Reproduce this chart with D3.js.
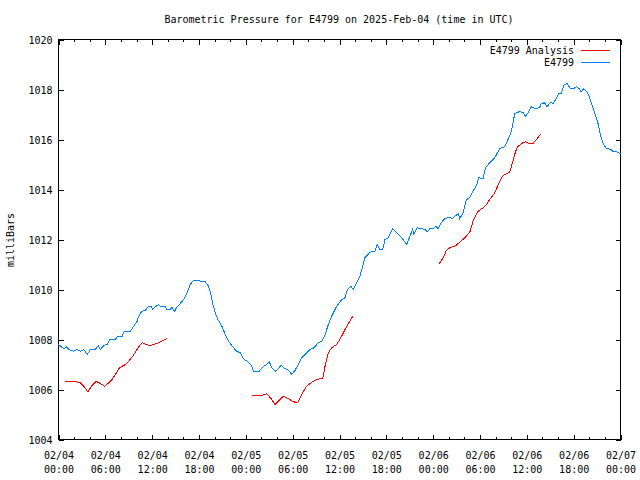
<!DOCTYPE html>
<html>
<head>
<meta charset="utf-8">
<script src="https://cdn.jsdelivr.net/npm/d3@7"></script>
<style>
  html, body { margin: 0; padding: 0; background: #fff; }
  svg { display: block; }
  text { font-family: "DejaVu Sans Mono", "Liberation Mono", monospace; font-size: 10px; fill: #000; }
</style>
</head>
<body>
<svg id="chart" width="640" height="480"></svg>
<script>
// ---- data (hours since 2025-02-04 00:00 UTC, pressure in mb) ----
const blueHours = [0,0.68,1.02,1.32,1.96,2.39,2.81,3.24,3.67,4.09,4.73,5.08,5.37,5.79,6.23,6.56,7.29,7.58,8.15,8.44,9.21,9.63,10.07,10.27,10.62,11.13,11.47,11.89,12.06,12.41,12.83,13.05,13.68,13.9,14.32,14.54,14.84,15.18,15.6,16.03,16.46,16.88,17.3,17.94,18.38,18.8,19.22,19.44,19.73,20.08,20.42,20.94,21.36,21.78,22.42,22.85,23.28,23.7,24.34,24.77,24.98,25.71,26.26,26.69,26.99,27.41,27.75,28.17,28.52,29.03,29.45,29.89,30.31,30.73,31.17,31.59,32.23,32.74,33.29,33.73,34.15,34.57,35.0,35.64,36.28,36.71,37.0,37.43,37.77,38.2,38.62,38.97,39.26,39.9,40.54,40.84,41.18,41.53,41.82,42.24,42.81,43.32,43.96,44.6,45.02,45.37,45.53,45.95,46.94,47.23,47.58,48.0,48.34,48.64,49.07,49.49,50.04,50.48,50.77,51.2,51.41,51.84,52.27,52.69,53.11,53.55,53.84,54.39,54.7,55.25,55.89,56.53,57.17,57.59,58.02,58.45,59.0,59.51,59.82,60.15,60.58,61.13,61.64,61.86,62.28,62.58,63.01,63.35,63.69,64.11,64.42,64.75,65.14,65.57,65.99,66.34,66.67,66.98,67.27,67.69,67.95,68.26,68.68,69.1,69.41,69.74,70.17,70.81,71.02,71.53,72.0];
const bluePressure = [1007.80,1007.63,1007.71,1007.60,1007.53,1007.60,1007.53,1007.60,1007.40,1007.60,1007.60,1007.76,1007.60,1007.76,1007.80,1008.00,1008.00,1008.13,1008.13,1008.33,1008.33,1008.53,1008.73,1008.93,1009.11,1009.17,1009.31,1009.31,1009.20,1009.31,1009.40,1009.33,1009.31,1009.20,1009.20,1009.29,1009.11,1009.31,1009.44,1009.60,1009.87,1010.20,1010.37,1010.37,1010.31,1010.31,1010.13,1009.93,1009.47,1009.07,1008.80,1008.53,1008.20,1007.93,1007.67,1007.53,1007.47,1007.23,1007.09,1006.93,1006.73,1006.73,1006.93,1007.00,1007.11,1006.83,1006.73,1006.83,1006.97,1006.83,1006.77,1006.60,1006.77,1007.00,1007.27,1007.40,1007.60,1007.67,1007.87,1007.93,1008.20,1008.60,1008.93,1009.33,1009.60,1009.67,1010.00,1010.13,1010.00,1010.27,1010.53,1010.93,1011.27,1011.49,1011.53,1011.80,1011.60,1011.60,1012.00,1012.07,1012.43,1012.27,1012.07,1011.80,1012.13,1012.40,1012.20,1012.47,1012.40,1012.31,1012.43,1012.43,1012.53,1012.43,1012.69,1012.83,1012.89,1012.83,1012.93,1013.03,1012.83,1013.07,1013.60,1013.67,1013.93,1014.16,1014.47,1014.43,1014.87,1015.07,1015.27,1015.64,1015.71,1016.00,1016.33,1017.03,1017.11,1017.09,1016.93,1017.07,1017.31,1017.23,1017.29,1017.44,1017.47,1017.31,1017.49,1017.43,1017.60,1017.84,1017.84,1018.17,1018.24,1018.04,1018.04,1018.11,1018.04,1017.91,1018.03,1017.91,1017.76,1017.47,1017.07,1016.67,1016.20,1015.87,1015.64,1015.60,1015.53,1015.51,1015.42];

// Analysis series; null marks a gap between segments
const redHours = [0.81,2.17,2.81,3.24,3.75,4.22,4.82,5.37,5.92,6.43,6.87,7.29,7.8,8.57,8.99,9.5,10.07,10.49,10.78,11.22,11.77,12.19,12.62,13.05,13.47,13.9,
  null,
  24.85,26.05,26.69,27.24,27.75,28.3,28.81,29.45,30.09,30.66,31.17,31.72,32.45,33.09,33.85,34.15,34.57,35.0,35.64,36.28,36.71,37.22,37.77,
  null,
  48.77,49.28,49.71,50.13,50.77,51.41,52.05,52.69,53.11,53.75,54.39,54.83,55.25,55.89,56.44,56.87,57.39,57.81,58.15,58.57,58.87,59.51,59.85,60.28,60.79,61.22,61.86];
const redPressure = [1006.31,1006.31,1006.27,1006.13,1005.91,1006.13,1006.33,1006.24,1006.13,1006.27,1006.40,1006.60,1006.87,1007.00,1007.13,1007.33,1007.60,1007.80,1007.87,1007.80,1007.76,1007.80,1007.84,1007.91,1007.97,1008.04,
  null,
  1005.76,1005.76,1005.83,1005.63,1005.40,1005.57,1005.73,1005.63,1005.51,1005.47,1005.80,1006.11,1006.29,1006.40,1006.45,1006.93,1007.47,1007.67,1007.80,1008.13,1008.40,1008.68,1008.96,
  null,
  1011.03,1011.27,1011.57,1011.67,1011.73,1011.89,1012.07,1012.29,1012.73,1013.13,1013.27,1013.40,1013.60,1013.87,1014.27,1014.53,1014.64,1014.69,1015.07,1015.53,1015.73,1015.87,1015.91,1015.84,1015.84,1016.00,1016.24];

const yTicks = [1004,1006,1008,1010,1012,1014,1016,1018,1020];
const seriesNames = ["E4799 Analysis", "E4799"];
const titleText = "Barometric Pressure for E4799 on 2025-Feb-04 (time in UTC)";
const yLabel = "milliBars";

// ---- layout ----
const W = 640, H = 480;
const m = {left: 58.5, right: 620.5, top: 39.5, bottom: 439.5};
const colors = {red: "#ff0000", blue: "#0080ff"};

const t0 = Date.UTC(2025, 1, 4, 0, 0);
const toDate = h => new Date(t0 + h * 3600e3);

const svg = d3.select("#chart");

const x = d3.scaleUtc().domain([toDate(0), toDate(72)]).range([m.left, m.right]);
const y = d3.scaleLinear().domain([1004, 1020]).range([m.bottom, m.top]);

const majorTicks = d3.utcHour.every(6).range(toDate(0), toDate(72.01));
const minorTicks = d3.utcHour.every(2).range(toDate(0), toDate(72.01));

const fmtDate = d3.utcFormat("%m/%d");
const fmtTime = d3.utcFormat("%H:%M");

// minor ticks bottom/top
svg.append("g").attr("transform", `translate(0,${m.bottom})`)
  .call(d3.axisBottom(x).tickValues(minorTicks).tickSize(-2.5).tickFormat(""))
  .call(g => g.select(".domain").remove());
svg.append("g").attr("transform", `translate(0,${m.top})`)
  .call(d3.axisTop(x).tickValues(minorTicks).tickSize(-2.5).tickFormat(""))
  .call(g => g.select(".domain").remove());

// major ticks bottom with two-line labels
const xb = svg.append("g").attr("transform", `translate(0,${m.bottom})`)
  .call(d3.axisBottom(x).tickValues(majorTicks).tickSize(-5).tickPadding(0).tickFormat(""))
  .call(g => g.select(".domain").remove());
xb.selectAll(".tick").each(function(d) {
  const t = d3.select(this).append("text").attr("text-anchor", "middle").attr("fill", "#000");
  t.append("tspan").attr("x", 0).attr("y", 19).text(fmtDate(d));
  t.append("tspan").attr("x", 0).attr("y", 33).text(fmtTime(d));
});
svg.append("g").attr("transform", `translate(0,${m.top})`)
  .call(d3.axisTop(x).tickValues(majorTicks).tickSize(-5).tickFormat(""))
  .call(g => g.select(".domain").remove());

// y axis left & right
svg.append("g").attr("transform", `translate(${m.left},0)`)
  .call(d3.axisLeft(y).tickValues(yTicks).tickSize(-5).tickPadding(6).tickFormat(d3.format("d")))
  .call(g => g.select(".domain").remove())
  .call(g => g.selectAll("text").attr("font-size", 10).attr("dy", "0.35em"));
svg.append("g").attr("transform", `translate(${m.right},0)`)
  .call(d3.axisRight(y).tickValues(yTicks).tickSize(-5).tickFormat(""))
  .call(g => g.select(".domain").remove());

svg.selectAll(".tick line").attr("stroke", "#000").attr("shape-rendering", "crispEdges");
svg.selectAll("g").attr("font-family", null).attr("font-size", null);

// frame
svg.append("rect")
  .attr("x", m.left).attr("y", m.top)
  .attr("width", m.right - m.left).attr("height", m.bottom - m.top)
  .attr("fill", "none").attr("stroke", "#000").attr("shape-rendering", "crispEdges");

// lines
const blueData = blueHours.map((h, i) => ({d: toDate(h), v: bluePressure[i]}));
const redData = redHours.map((h, i) => ({d: h == null ? null : toDate(h), v: redPressure[i]}));
const line = d3.line().defined(p => p.d != null && p.v != null).x(p => x(p.d)).y(p => y(p.v));

svg.append("path").datum(redData).attr("d", line)
  .attr("fill", "none").attr("stroke", colors.red).attr("stroke-width", 1)
  .attr("shape-rendering", "crispEdges");
svg.append("path").datum(blueData).attr("d", line)
  .attr("fill", "none").attr("stroke", colors.blue).attr("stroke-width", 1)
  .attr("shape-rendering", "crispEdges");

// title
svg.append("text").attr("x", 339).attr("y", 23).attr("text-anchor", "middle").text(titleText);

// y label
svg.append("text").attr("transform", "translate(14,240) rotate(-90)")
  .attr("text-anchor", "middle").text(yLabel);

// legend
const legend = [{name: seriesNames[0], c: colors.red, yy: 50}, {name: seriesNames[1], c: colors.blue, yy: 62.5}];
legend.forEach(l => {
  svg.append("text").attr("x", 574).attr("y", l.yy).attr("dy", "0.35em").attr("text-anchor", "end").text(l.name);
  svg.append("line").attr("x1", 581).attr("x2", 610).attr("y1", l.yy).attr("y2", l.yy)
    .attr("stroke", l.c).attr("stroke-width", 1).attr("shape-rendering", "crispEdges");
});
</script>
</body>
</html>
